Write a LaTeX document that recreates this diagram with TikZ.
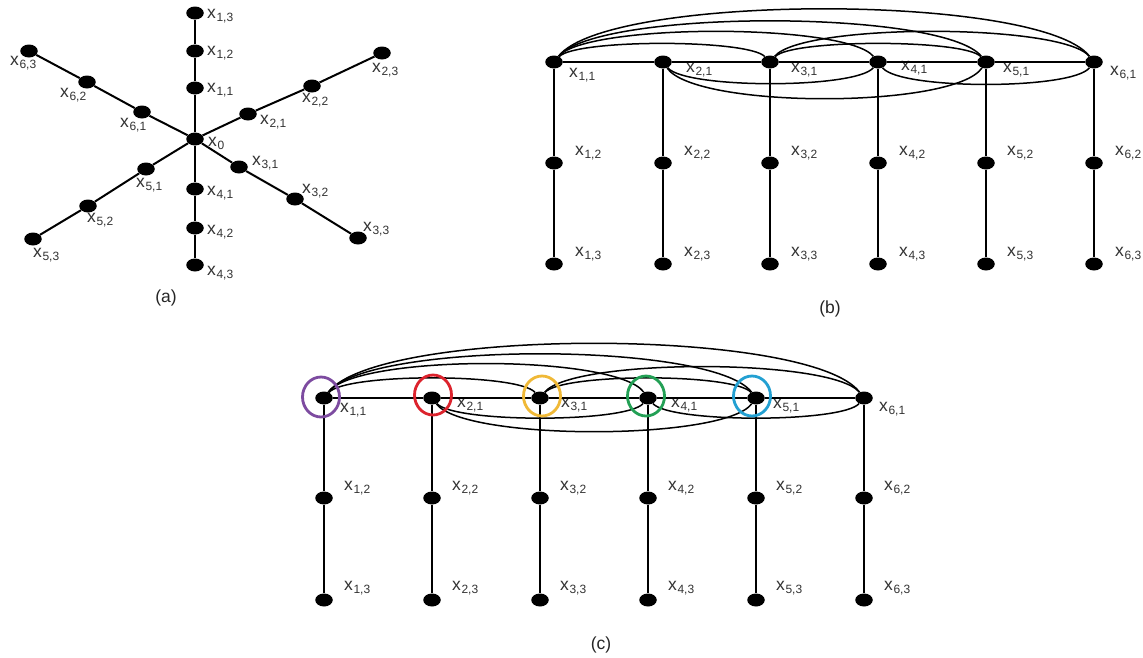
\documentclass[tikz,border=0pt]{standalone}
\usepackage{fontspec}
\setmainfont{Liberation Sans}
\usetikzlibrary{shapes.geometric,calc}
\definecolor{cpurple}{RGB}{125,75,160}
\definecolor{cred}{RGB}{220,35,45}
\definecolor{cyellow}{RGB}{240,185,55}
\definecolor{cgreen}{RGB}{35,160,85}
\definecolor{ccyan}{RGB}{35,160,210}
\newcommand\xs[1]{x\kern0.6pt\raisebox{-3pt}{\fontsize{12}{12}\selectfont #1}}
\newcommand\arcup[4]{\draw[arcline] (#1) .. controls ($(#1.center)+(#3,-#4)$) and ($(#2.center)+(-#3,-#4)$) .. (#2);}
\newcommand\arcdn[4]{\draw[arcline] (#1) .. controls ($(#1.center)+(#3,#4)$) and ($(#2.center)+(-#3,#4)$) .. (#2);}
\begin{document}
\begin{tikzpicture}[x=1pt,y=-1pt,
  dot/.style={ellipse,fill=black,draw=none,minimum width=17.5pt,minimum height=13pt,inner sep=0pt},
  lab/.style={anchor=west,inner sep=0pt,text=black!80,font=\fontsize{17.5}{17.5}\selectfont},
  edgeline/.style={line width=2pt},
  arcline/.style={line width=1.5pt},
  ring/.style={ellipse,draw,line width=2.8pt,minimum width=37pt,minimum height=40pt,inner sep=0pt,fill=none},
  capt/.style={inner sep=0pt,text=black!85,font=\fontsize{17.5}{17.5}\selectfont}]
\useasboundingbox (0,0) rectangle (1143,657);
\fill[white] (0,0) rectangle (1143,657);
% ---------- (a) ----------
\node[dot] (a0) at (195,139) {};
\node[dot] (a11) at (195,88) {};
\node[dot] (a12) at (195,51) {};
\node[dot] (a13) at (195,13) {};
\node[dot] (a21) at (248,114) {};
\node[dot] (a22) at (312,86) {};
\node[dot] (a23) at (382,53) {};
\node[dot] (a31) at (239,167) {};
\node[dot] (a32) at (295,199) {};
\node[dot] (a33) at (358,238) {};
\node[dot] (a41) at (195,189) {};
\node[dot] (a42) at (195,228) {};
\node[dot] (a43) at (195,265) {};
\node[dot] (a51) at (146,169) {};
\node[dot] (a52) at (88,206) {};
\node[dot] (a53) at (33,239) {};
\node[dot] (a61) at (142,112) {};
\node[dot] (a62) at (87,82) {};
\node[dot] (a63) at (29,51) {};
\foreach \k in {1,...,6}{
  \draw[edgeline] (a0) -- (a\k1) -- (a\k2) -- (a\k3);
}
\node[lab] (la13) at (207,16) {\xs{1,3}};
\node[lab] (la12) at (207,53) {\xs{1,2}};
\node[lab] (la11) at (207,90) {\xs{1,1}};
\node[lab] (la0) at (208,143) {\xs{0}};
\node[lab] (la21) at (260,122) {\xs{2,1}};
\node[lab] (la22) at (302,100) {\xs{2,2}};
\node[lab] (la23) at (372,70) {\xs{2,3}};
\node[lab] (la31) at (252,163) {\xs{3,1}};
\node[lab] (la32) at (302,191) {\xs{3,2}};
\node[lab] (la33) at (363,229) {\xs{3,3}};
\node[lab] (la41) at (207,193) {\xs{4,1}};
\node[lab] (la42) at (207,232) {\xs{4,2}};
\node[lab] (la43) at (207,273) {\xs{4,3}};
\node[lab] (la51) at (136,185) {\xs{5,1}};
\node[lab] (la52) at (87,220) {\xs{5,2}};
\node[lab] (la53) at (33,255) {\xs{5,3}};
\node[lab] (la61) at (120,125) {\xs{6,1}};
\node[lab] (la62) at (60,95) {\xs{6,2}};
\node[lab] (la63) at (10,63) {\xs{6,3}};
\node[capt] (capa) at (166,298) {(a)};
% ---------- (b) ----------
\foreach \i/\x/\lx/\ly in {1/554/569/75,2/663/686/70,3/770/791/70,4/878/901/68,5/986/1003/70,6/1094/1110/73}{
  \node[dot] (b\i1) at (\x,62) {};
  \node[dot] (b\i2) at (\x,163) {};
  \node[dot] (b\i3) at (\x,264) {};
  \draw[edgeline] (b\i1) -- (b\i2) -- (b\i3);
  \node[lab] (lb\i1) at (\lx,\ly) {\xs{\i,1}};
  \node[lab] (lb\i2) at (\x+21,153) {\xs{\i,2}};
  \node[lab] (lb\i3) at (\x+21,254) {\xs{\i,3}};
}
\draw[arcline] (b11) -- (b21) -- (b31) -- (b41) -- (b51) -- (b61);
\arcup{b11}{b31}{22}{23}
\arcup{b11}{b41}{32}{39}
\arcup{b11}{b51}{43}{53}
\arcup{b11}{b61}{54}{69}
\arcup{b31}{b51}{22}{23}
\arcup{b31}{b61}{32}{39}
\arcdn{b21}{b41}{22}{27}
\arcdn{b21}{b51}{32}{47}
\arcdn{b41}{b61}{22}{28}
\node[capt] (capb) at (830,309) {(b)};
% ---------- (c) ----------
\foreach \i/\x/\lx/\ly in {1/324/340/410,2/432/457/405,3/540/561/405,4/648/671/405,5/756/773/406,6/864/879/409}{
  \node[dot] (c\i1) at (\x,398) {};
  \node[dot] (c\i2) at (\x,498) {};
  \node[dot] (c\i3) at (\x,600) {};
  \draw[edgeline] (c\i1) -- (c\i2) -- (c\i3);
  \node[lab] (lc\i1) at (\lx,\ly) {\xs{\i,1}};
  \node[lab] (lc\i2) at (\x+20,488) {\xs{\i,2}};
  \node[lab] (lc\i3) at (\x+20,588) {\xs{\i,3}};
}
\draw[arcline] (c11) -- (c21) -- (c31) -- (c41) -- (c51) -- (c61);
\arcup{c11}{c31}{22}{25}
\arcup{c11}{c41}{32}{44}
\arcup{c11}{c51}{43}{57}
\arcup{c11}{c61}{54}{71}
\arcup{c31}{c51}{22}{25}
\arcup{c31}{c61}{32}{40}
\arcdn{c21}{c41}{22}{25}
\arcdn{c21}{c51}{32}{43}
\arcdn{c41}{c61}{22}{25}
\node[ring,draw=cpurple] (r1) at (321,397) {};
\node[ring,draw=cred] (r2) at (433,395) {};
\node[ring,draw=cyellow] (r3) at (542,396) {};
\node[ring,draw=cgreen] (r4) at (646,396) {};
\node[ring,draw=ccyan] (r5) at (752,396) {};
\node[capt] (capc) at (601,645) {(c)};
\end{tikzpicture}
\end{document}
